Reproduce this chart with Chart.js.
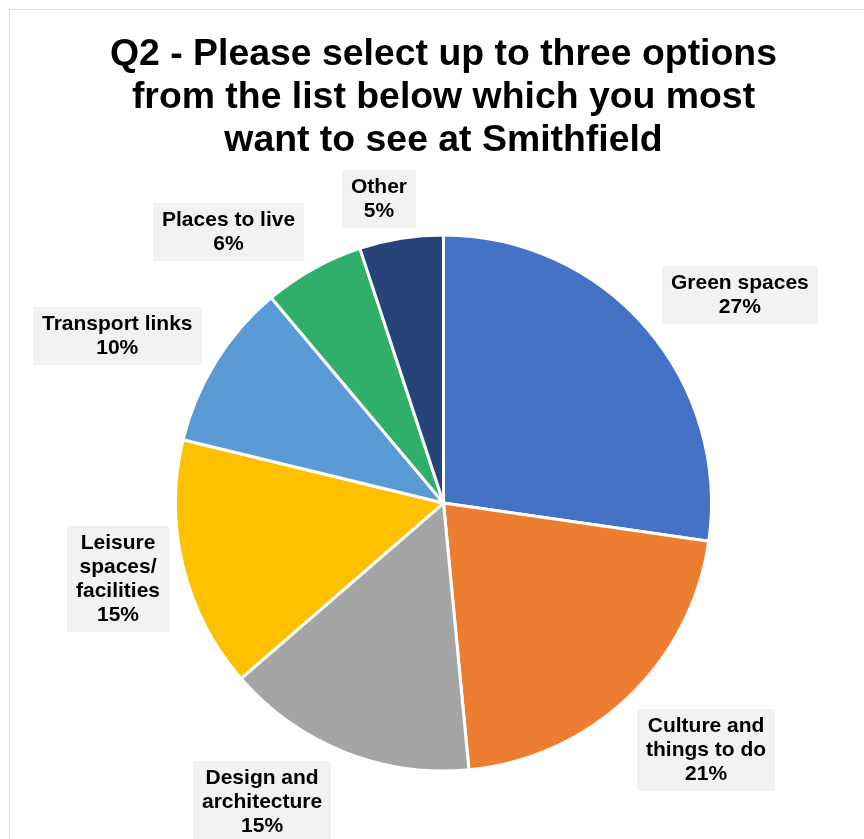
<!DOCTYPE html>
<html>
<head>
<meta charset="utf-8">
<script src="https://cdn.jsdelivr.net/npm/chart.js@4/dist/chart.umd.min.js"></script>
<style>
  html, body { margin: 0; padding: 0; background: #fff; overflow: hidden; }
  #wrap { position: relative; width: 864px; height: 839px; overflow: hidden; }
  #frame { position: absolute; left: 9px; top: 9px; width: 900px; height: 900px;
           border: 1px solid #d9d9d9; box-sizing: border-box; }
  canvas { position: absolute; left: 0; top: 0; }
</style>
</head>
<body>
<div id="wrap">
  <div id="frame"></div>
  <canvas id="chart" width="864" height="839"></canvas>
</div>
<script>
// Survey answers, clockwise from 12 o'clock
const categories = [
  ['Green spaces'],
  ['Culture and', 'things to do'],
  ['Design and', 'architecture'],
  ['Leisure', 'spaces/', 'facilities'],
  ['Transport links'],
  ['Places to live'],
  ['Other']
];
const shares = [27, 21, 15, 15, 10, 6, 5];
const sliceColors = ['#4472C4', '#ED7D31', '#A5A5A5', '#FFC000', '#5B9BD5', '#30AF6A', '#264478'];
const titleLines = [
  'Q2 - Please select up to three options',
  'from the list below which you most',
  'want to see at Smithfield'
];

// Where each callout sits around its slice: angular nudge (degrees) and gap from the rim (px)
const calloutPlacement = [
  { shift: 5.8, gap: 14 },
  { shift: -3.2, gap: 14 },
  { shift: 9.4, gap: 10.6 },
  { shift: 0.5, gap: 5 },
  { shift: -4.7, gap: 10 },
  { shift: -9.4, gap: 8 },
  { shift: -2.8, gap: 7 }
];

const FONT = "'Liberation Sans', Arial, Helvetica, sans-serif";

// Outside-end callouts: grey boxes with the category name and its share
const sliceCallouts = {
  id: 'sliceCallouts',
  afterDatasetsDraw(chart) {
    const ctx = chart.ctx;
    const meta = chart.getDatasetMeta(0);
    const padX = 9, padY = 5, lineH = 24;
    ctx.save();
    ctx.font = 'bold 21px ' + FONT;
    ctx.textAlign = 'center';
    ctx.textBaseline = 'middle';
    meta.data.forEach((arc, i) => {
      const p = arc.getProps(['x', 'y', 'startAngle', 'endAngle', 'outerRadius'], true);
      const lines = categories[i].concat([shares[i] + '%']);
      const w = Math.max(...lines.map(l => ctx.measureText(l).width)) + 2 * padX;
      const h = lines.length * lineH + 2 * padY;
      const a = (p.startAngle + p.endAngle) / 2 + calloutPlacement[i].shift * Math.PI / 180;
      const ux = Math.cos(a), uy = Math.sin(a);
      const support = (w / 2) * Math.abs(ux) + (h / 2) * Math.abs(uy);
      const d = p.outerRadius + calloutPlacement[i].gap + support;
      const cx = p.x + ux * d, cy = p.y + uy * d;
      const left = Math.round(cx - w / 2), top = Math.round(cy - h / 2);
      ctx.fillStyle = '#F2F2F2';
      ctx.fillRect(left, top, Math.round(w), Math.round(h));
      ctx.fillStyle = '#000';
      lines.forEach((line, k) => {
        ctx.fillText(line, left + w / 2, top + padY + lineH * k + lineH / 2);
      });
    });
    ctx.restore();
  }
};

new Chart(document.getElementById('chart'), {
  type: 'pie',
  data: {
    labels: categories.map(c => c.join(' ')),
    datasets: [{
      data: shares,
      backgroundColor: sliceColors,
      borderColor: '#FFFFFF',
      borderWidth: 3,
      radius: 268
    }]
  },
  options: {
    responsive: false,
    animation: false,
    devicePixelRatio: 1,
    layout: { padding: { left: 23, right: 0, top: 0, bottom: 0 } },
    plugins: {
      legend: { display: false },
      tooltip: { enabled: false },
      title: {
        display: true,
        text: titleLines,
        color: '#000',
        font: { family: FONT, size: 37.4, weight: 'bold', lineHeight: 1.15 },
        padding: { top: 33, bottom: 5 }
      }
    }
  },
  plugins: [sliceCallouts]
});
</script>
</body>
</html>
